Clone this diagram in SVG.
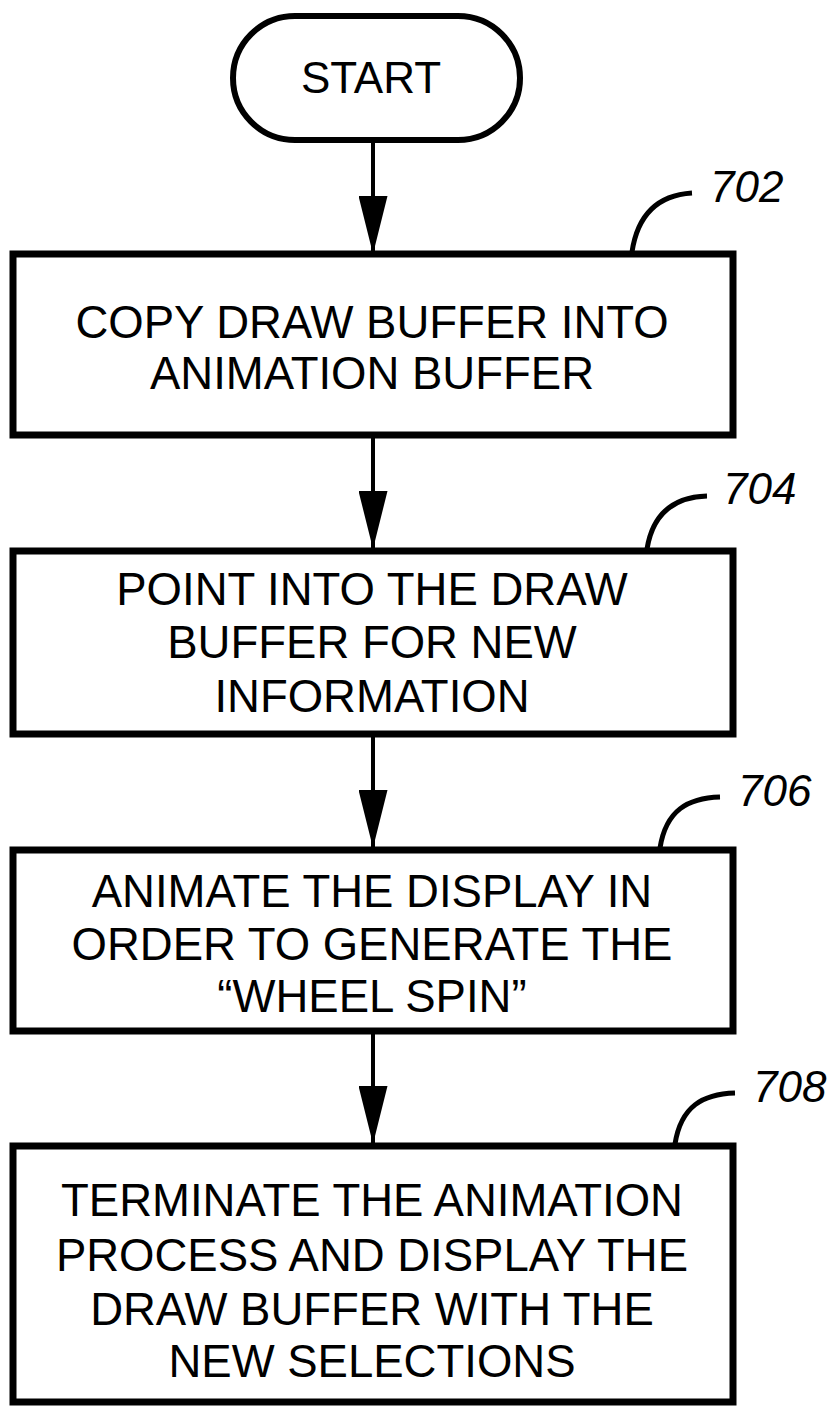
<svg xmlns="http://www.w3.org/2000/svg" width="831" height="1407" viewBox="0 0 831 1407">
<style>
.box{fill:#fff;stroke:#000;stroke-width:7}
.t{font-family:"Liberation Sans",Arial,sans-serif;font-size:45.5px;fill:#000;text-anchor:middle}
.s{font-family:"Liberation Sans",Arial,sans-serif;font-size:44px;fill:#000;text-anchor:middle}
.ref{font-family:"Liberation Sans",Arial,sans-serif;font-size:44px;font-style:italic;fill:#000}
.lead{fill:none;stroke:#000;stroke-width:5}
.conn{stroke:#000;stroke-width:4;fill:none}
</style>
<defs>
<marker id="ah" markerUnits="userSpaceOnUse" viewBox="0 0 58 29" refX="58" refY="14.5" markerWidth="58" markerHeight="29" orient="auto">
<path d="M0,0 L58,14.5 L0,29 z" fill="#000"/>
</marker>
</defs>
<rect width="831" height="1407" fill="#fff"/>
<g id="connectors">
<line class="conn" x1="373" y1="140" x2="373" y2="254" marker-end="url(#ah)"/>
<line class="conn" x1="373" y1="437" x2="373" y2="549" marker-end="url(#ah)"/>
<line class="conn" x1="373" y1="736" x2="373" y2="848" marker-end="url(#ah)"/>
<line class="conn" x1="373" y1="1033" x2="373" y2="1144" marker-end="url(#ah)"/>
</g>
<g id="start">
<rect x="233" y="16" width="287" height="124" rx="62" ry="62" fill="#fff" stroke="#000" stroke-width="6"/>
<text class="s" x="371" y="93">START</text>
</g>
<g id="n702">
<rect class="box" x="13" y="254" width="720" height="181"/>
<text class="t" x="372" y="338">COPY DRAW BUFFER INTO</text>
<text class="t" x="372" y="389">ANIMATION BUFFER</text>
<path class="lead" d="M632,252 C638,212 660,195 692,193"/>
<text class="ref" x="710" y="202">702</text>
</g>
<g id="n704">
<rect class="box" x="13" y="551" width="720" height="183"/>
<text class="t" x="372" y="605">POINT INTO THE DRAW</text>
<text class="t" x="372" y="658">BUFFER FOR NEW</text>
<text class="t" x="372" y="712">INFORMATION</text>
<path class="lead" d="M647,549 C653,512 675,497 707,496"/>
<text class="ref" x="723" y="504">704</text>
</g>
<g id="n706">
<rect class="box" x="13" y="850" width="720" height="181"/>
<text class="t" x="372" y="907">ANIMATE THE DISPLAY IN</text>
<text class="t" x="372" y="960">ORDER TO GENERATE THE</text>
<text class="t" x="372" y="1012">“WHEEL SPIN”</text>
<path class="lead" d="M660,848 C666,810 688,798 720,797"/>
<text class="ref" x="738" y="806">706</text>
</g>
<g id="n708">
<rect class="box" x="13" y="1146" width="720" height="256"/>
<text class="t" x="372" y="1216">TERMINATE THE ANIMATION</text>
<text class="t" x="372" y="1271">PROCESS AND DISPLAY THE</text>
<text class="t" x="372" y="1325">DRAW BUFFER WITH THE</text>
<text class="t" x="372" y="1377">NEW SELECTIONS</text>
<path class="lead" d="M675,1144 C681,1106 703,1094 735,1093"/>
<text class="ref" x="753" y="1102">708</text>
</g>
</svg>
